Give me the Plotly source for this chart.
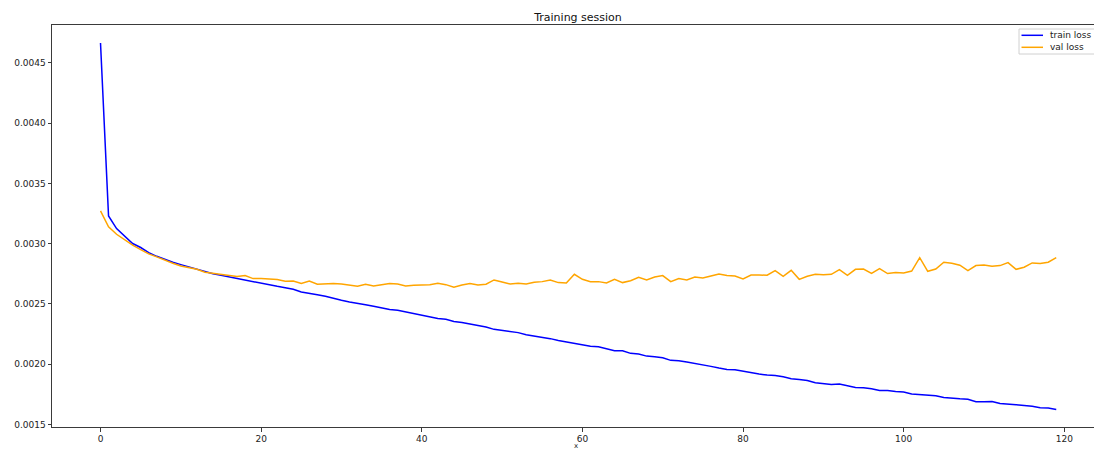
import plotly.graph_objects as go

# Per-epoch losses recorded during training
train_loss = [
    0.004665, 0.003230, 0.003125, 0.003059, 0.003001, 0.002968, 0.002926, 0.002895, 0.002868, 0.002846,
    0.002826, 0.002807, 0.002787, 0.002771, 0.002751, 0.002738, 0.002724, 0.002710, 0.002696, 0.002682,
    0.002671, 0.002660, 0.002646, 0.002635, 0.002621, 0.002599, 0.002590, 0.002577, 0.002563, 0.002544,
    0.002530, 0.002516, 0.002508, 0.002494, 0.002480, 0.002466, 0.002453, 0.002447, 0.002433, 0.002419,
    0.002408, 0.002391, 0.002380, 0.002372, 0.002355, 0.002345, 0.002333, 0.002325, 0.002308, 0.002289,
    0.002281, 0.002272, 0.002262, 0.002245, 0.002234, 0.002228, 0.002212, 0.002197, 0.002184, 0.002173,
    0.002162, 0.002148, 0.002145, 0.002129, 0.002112, 0.002112, 0.002090, 0.002084, 0.002067, 0.002062,
    0.002054, 0.002032, 0.002029, 0.002018, 0.002007, 0.001998, 0.001982, 0.001968, 0.001957, 0.001954,
    0.001940, 0.001929, 0.001918, 0.001910, 0.001907, 0.001896, 0.001880, 0.001874, 0.001865, 0.001846,
    0.001841, 0.001832, 0.001835, 0.001824, 0.001807, 0.001805, 0.001797, 0.001782, 0.001782, 0.001774,
    0.001769, 0.001752, 0.001747, 0.001741, 0.001739, 0.001724, 0.001716, 0.001713, 0.001710, 0.001689,
    0.001689, 0.001691, 0.001674, 0.001666, 0.001664, 0.001658, 0.001652, 0.001639, 0.001636, 0.001625,
]
val_loss = [
    0.003272, 0.003139, 0.003078, 0.003031, 0.002987, 0.002951, 0.002915, 0.002890, 0.002862, 0.002837,
    0.002815, 0.002801, 0.002787, 0.002763, 0.002754, 0.002749, 0.002740, 0.002727, 0.002735, 0.002710,
    0.002710, 0.002707, 0.002702, 0.002688, 0.002690, 0.002669, 0.002690, 0.002663, 0.002669, 0.002669,
    0.002665, 0.002657, 0.002646, 0.002663, 0.002649, 0.002660, 0.002669, 0.002665, 0.002649, 0.002655,
    0.002657, 0.002660, 0.002671, 0.002660, 0.002638, 0.002657, 0.002669, 0.002657, 0.002663, 0.002699,
    0.002682, 0.002665, 0.002671, 0.002665, 0.002680, 0.002685, 0.002699, 0.002677, 0.002674, 0.002746,
    0.002704, 0.002685, 0.002685, 0.002674, 0.002704, 0.002677, 0.002693, 0.002721, 0.002699, 0.002724,
    0.002735, 0.002685, 0.002710, 0.002699, 0.002724, 0.002716, 0.002732, 0.002749, 0.002735, 0.002732,
    0.002707, 0.002740, 0.002740, 0.002738, 0.002776, 0.002729, 0.002779, 0.002704, 0.002729, 0.002747,
    0.002743, 0.002746, 0.002785, 0.002738, 0.002787, 0.002790, 0.002754, 0.002793, 0.002752, 0.002760,
    0.002757, 0.002773, 0.002884, 0.002771, 0.002790, 0.002846, 0.002837, 0.002821, 0.002776, 0.002818,
    0.002823, 0.002812, 0.002818, 0.002843, 0.002787, 0.002804, 0.002840, 0.002835, 0.002846, 0.002884,
]
epochs = list(range(len(train_loss)))

series_names = ["train loss", "val loss"]
series_colors = ["blue", "orange"]

x_ticks = [0, 20, 40, 60, 80, 100, 120]
y_ticks = [0.0015, 0.0020, 0.0025, 0.0030, 0.0035, 0.0040, 0.0045]

FONT = "DejaVu Sans, sans-serif"
AXIS_COLOR = "#3a3a3a"

fig = go.Figure()
for name, color, ys in zip(series_names, series_colors, [train_loss, val_loss]):
    fig.add_trace(go.Scatter(
        x=epochs, y=ys, mode="lines", name=name,
        line=dict(color=color, width=1.5), showlegend=False,
    ))

W, H = 1094, 449
L, R, T, B = 52, 0, 25, 22
plot_w = W - L - R
plot_h = H - T - B


def px_x(px):
    return (px - L) / plot_w


def px_y(py):
    return (H - B - py) / plot_h


# Legend drawn in the upper right corner, matplotlib style
shapes = [dict(
    type="rect", xref="paper", yref="paper",
    x0=px_x(1019), x1=px_x(1110), y0=px_y(54), y1=px_y(29),
    line=dict(color="#d0d0d0", width=1), fillcolor="rgba(255,255,255,0.8)", layer="above",
)]
annotations = []
for k, (name, color) in enumerate(zip(series_names, series_colors)):
    row_y = 35.3 + 12 * k
    shapes.append(dict(
        type="line", xref="paper", yref="paper",
        x0=px_x(1021.5), x1=px_x(1043), y0=px_y(row_y), y1=px_y(row_y),
        line=dict(color=color, width=1.5), layer="above",
    ))
    annotations.append(dict(
        xref="paper", yref="paper", x=px_x(1048), y=px_y(row_y),
        xanchor="left", yanchor="middle", text=name, showarrow=False,
        font=dict(family=FONT, size=9, color="#222"),
    ))

# x axis label, tucked just under the tick labels
annotations.append(dict(
    xref="paper", yref="paper", x=px_x(576), y=px_y(445.5),
    xanchor="center", yanchor="middle", text="x", showarrow=False,
    font=dict(family=FONT, size=7, color="#222"),
))

fig.update_layout(
    width=W, height=H,
    margin=dict(l=L, r=R, t=T, b=B, pad=0),
    paper_bgcolor="white", plot_bgcolor="white",
    font=dict(family=FONT, size=9, color="#222"),
    title=dict(
        text="Training session", x=578 / W, xref="container", xanchor="center",
        y=1 - 17 / H, yref="container", yanchor="middle",
        font=dict(family=FONT, size=11, color="#111"),
    ),
    shapes=shapes,
    annotations=annotations,
    showlegend=False,
)
fig.update_xaxes(
    range=[-6.04, 123.7], tickmode="array", tickvals=x_ticks,
    ticktext=[str(v) for v in x_ticks],
    showgrid=False, zeroline=False,
    showline=True, linecolor=AXIS_COLOR, linewidth=1, mirror=True,
    ticks="outside", ticklen=3.5, tickwidth=1, tickcolor=AXIS_COLOR,
    tickfont=dict(family=FONT, size=9, color="#222"),
)
fig.update_yaxes(
    range=[0.001479, 0.004814], tickmode="array", tickvals=y_ticks,
    ticktext=[f"{v:.4f}" for v in y_ticks],
    showgrid=False, zeroline=False,
    showline=True, linecolor=AXIS_COLOR, linewidth=1, mirror=False,
    ticks="outside", ticklen=3.5, tickwidth=1, tickcolor=AXIS_COLOR,
    tickfont=dict(family=FONT, size=9, color="#222"),
)

fig.write_html("out.html")
